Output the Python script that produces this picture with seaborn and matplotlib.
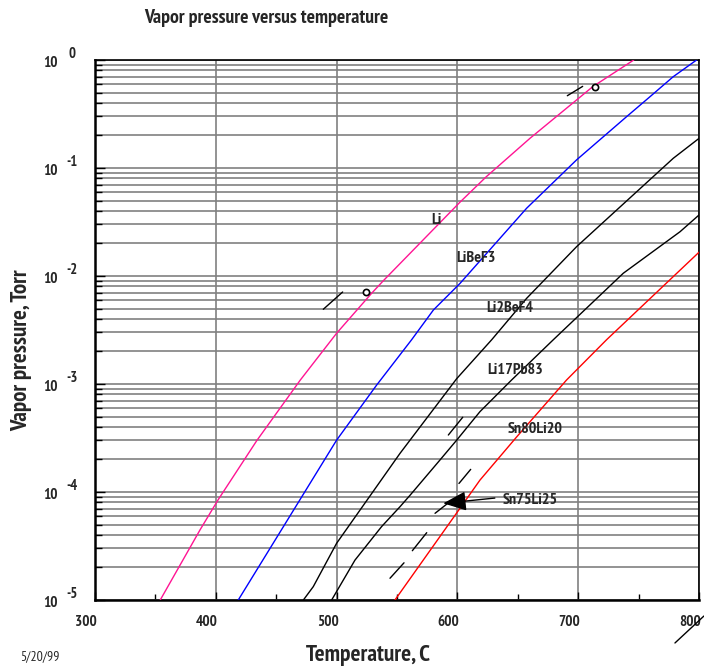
import matplotlib
matplotlib.use("Agg")
import matplotlib.pyplot as plt
import matplotlib.transforms as mtransforms
from matplotlib.ticker import FixedLocator, NullFormatter, LogLocator
import numpy as np
import pandas as pd
import seaborn as sns

# ---------------- data ----------------
li_T = [354, 387, 402, 434, 470, 500, 529, 539, 602, 624, 660, 712, 746]
li_P = [1.0e-5, 4.47e-5, 8.5e-5, 3.0e-4, 1.09e-3, 2.95e-3, 6.92e-3, 9.12e-3,
        4.81e-2, 8.32e-2, 0.188, 0.566, 1.0]

libef3_T = [418.6, 500, 533.2, 562.1, 580.1, 602.2, 657.3, 698.7, 740.1, 759.4, 778.7, 798]
libef3_P = [1.0e-5, 3.02e-4, 9.79e-4, 2.57e-3, 4.84e-3, 8.55e-3, 4.24e-2, 0.119,
            0.299, 0.457, 0.701, 1.0]

li2bef4_T = [472.5, 480.7, 500, 552.5, 599.4, 628.4, 657.3, 698.7, 778.7, 800]
li2bef4_P = [1.0e-5, 1.33e-5, 3.35e-5, 2.28e-4, 1.12e-3, 2.57e-3, 6.21e-3, 1.87e-2,
             0.123, 0.188]

li17pb83_T = [495.9, 515.2, 537.3, 552.5, 560.8, 585.6, 599.4, 618.7, 644.9, 679.4,
              737.3, 784.3, 800]
li17pb83_P = [1.0e-5, 2.34e-5, 4.79e-5, 7.31e-5, 9.33e-5, 1.98e-4, 3.02e-4, 5.55e-4,
              1.09e-3, 2.57e-3, 1.06e-2, 2.57e-2, 3.67e-2]

sn80li20_T = [548.3, 602.2, 618.7, 649.1, 690.4, 723.5, 800]
sn80li20_P = [1.0e-5, 7.08e-5, 1.29e-4, 3.24e-4, 1.09e-3, 2.57e-3, 1.66e-2]

materials = ["Li", "LiBeF3", "Li2BeF4", "Li17Pb83", "Sn80Li20"]
colors = ["#FF1493", "#0000FF", "#000000", "#000000", "#FF0000"]

# label anchors (T, P)
label_names = ["Li", "LiBeF3", "Li2BeF4", "Li17Pb83", "Sn80Li20", "Sn75Li25"]
label_T = [582.8, 615.4, 643.5, 647.7, 664.2, 660.1]
label_P = [3.30e-2, 1.46e-2, 5.02e-3, 1.35e-3, 3.80e-4, 8.43e-5]

# arrow for Sn75Li25: tail -> head
arrow_tail = (631.0, 8.79e-5)
arrow_head = (588.3, 7.85e-5)

# small circle marks
circle_T = [524.3, 713.9]
circle_P = [7.16e-3, 0.566]

# short stray strokes (T0, P0, T1, P1)
strokes = [
    (489.0, 4.92e-3, 505.0, 7.11e-3),
    (691.0, 0.467, 703.7, 0.570),
    (592.5, 3.37e-4, 604.4, 4.92e-4),
    (601.3, 1.20e-4, 611.0, 1.62e-4),
    (581.5, 6.35e-5, 595.5, 8.43e-5),
    (562.7, 2.86e-5, 574.6, 4.20e-5),
    (544.2, 1.59e-5, 555.8, 2.21e-5),
    (780.1, 4.00e-6, 804.1, 7.11e-6),
]

x_ticks = [300, 400, 500, 600, 700, 800]
y_exponents = [0, -1, -2, -3, -4, -5]

# ---------------- figure ----------------
sns.set_style("white")
plt.rcParams["font.family"] = ["PT Sans Narrow", "Liberation Sans", "DejaVu Sans"]

fig = plt.figure(figsize=(7.04, 6.71), dpi=100)
ax = fig.add_axes([95 / 704, 1 - 600 / 671, 604 / 704, 540 / 671])

frames = [pd.DataFrame({"T": T, "P": P, "material": m}) for m, T, P in zip(
    materials,
    [li_T, libef3_T, li2bef4_T, li17pb83_T, sn80li20_T],
    [li_P, libef3_P, li2bef4_P, li17pb83_P, sn80li20_P])]
df = pd.concat(frames, ignore_index=True)

sns.lineplot(data=df, x="T", y="P", hue="material", hue_order=materials,
             palette=dict(zip(materials, colors)), estimator=None, sort=False,
             legend=False, linewidth=1.0, ax=ax, zorder=3)

ax.set_yscale("log")
ax.set_xlim(300, 800)
ax.set_ylim(1e-5, 1)

# grid
ax.set_axisbelow(True)
ax.xaxis.set_major_locator(FixedLocator(x_ticks))
ax.xaxis.set_minor_locator(FixedLocator([350, 450, 550, 650, 750]))
ax.yaxis.set_major_locator(LogLocator(base=10, numticks=10))
ax.yaxis.set_minor_locator(LogLocator(base=10, subs=np.arange(2, 10), numticks=20))
ax.yaxis.set_major_formatter(NullFormatter())
ax.yaxis.set_minor_formatter(NullFormatter())
ax.xaxis.grid(True, which="major", color="#808080", linewidth=1.2)
ax.yaxis.grid(True, which="both", color="#808080", linewidth=1.2)

for s in ax.spines.values():
    s.set_color("black")
    s.set_linewidth(1.2)
ax.spines["left"].set_linewidth(1.8)
ax.spines["bottom"].set_linewidth(1.8)

ax.tick_params(axis="both", which="both", direction="in", top=False, right=False,
               bottom=True, left=True, color="black")
ax.tick_params(axis="x", which="major", length=6, width=1, pad=11)
ax.tick_params(axis="x", which="minor", length=4, width=1)
ax.tick_params(axis="y", which="major", length=7, width=1)
ax.tick_params(axis="y", which="minor", length=5, width=1)

ax.set_xticklabels([str(t) for t in x_ticks])
for lab in ax.get_xticklabels():
    lab.set_fontweight("bold")
    lab.set_fontsize(11)
    lab.set_transform(lab.get_transform() +
                      mtransforms.ScaledTranslation(-0.09, 0, fig.dpi_scale_trans))

ax.set_xlabel("")
ax.set_ylabel("")

# y tick labels: "10" with a raised exponent
ytrans = mtransforms.blended_transform_factory(ax.transAxes, ax.transData)
for e in y_exponents:
    ax.annotate("10", xy=(0, 10.0 ** e), xycoords=ytrans, xytext=(-32.4, -2.2),
                textcoords="offset points", ha="center", va="center",
                fontsize=11, fontweight="bold", annotation_clip=False)
    ax.annotate(str(e), xy=(0, 10.0 ** e), xycoords=ytrans, xytext=(-16.5, 4.0),
                textcoords="offset points", ha="center", va="center",
                fontsize=10.5, fontweight="bold", annotation_clip=False)

# curve labels
for name, t, p in zip(label_names, label_T, label_P):
    ax.text(t, p, name, ha="center", va="center", fontsize=11.5,
            fontweight="bold", zorder=5)

ax.annotate("", xy=arrow_head, xytext=arrow_tail,
            arrowprops=dict(arrowstyle="-|>,head_length=0.95,head_width=0.4",
                            color="black", lw=1.0, mutation_scale=15,
                            shrinkA=0, shrinkB=0), zorder=5)

ax.scatter(circle_T, circle_P, s=20, facecolors="white", edgecolors="black",
           linewidths=1.2, zorder=6)

for t0, p0, t1, p1 in strokes:
    ax.plot([t0, t1], [p0, p1], color="black", lw=1.0, clip_on=False, zorder=6)

# titles / labels
fig.text(266 / 704, 1 - 18 / 671, "Vapor pressure versus temperature",
         ha="center", va="center", fontsize=14.2, fontweight="bold")
fig.text(22 / 704, 1 - 350 / 671, "Vapor pressure, Torr", ha="center", va="center",
         rotation=90, fontsize=16.5, fontweight="bold")
fig.text(368 / 704, 1 - 655 / 671, "Temperature, C", ha="center", va="center",
         fontsize=16.8, fontweight="bold")
fig.text(40 / 704, 1 - 657 / 671, "5/20/99", ha="center", va="center", fontsize=10)

fig.savefig("out.png", dpi=100)
